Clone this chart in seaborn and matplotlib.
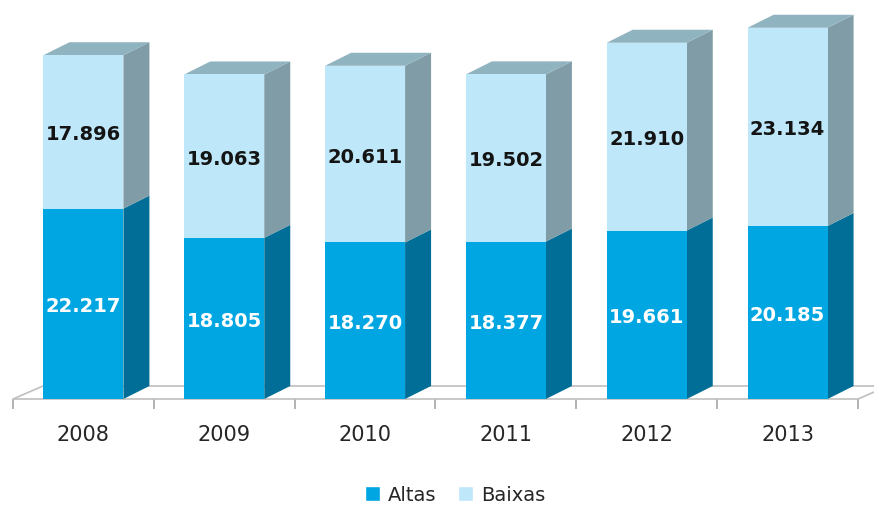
import matplotlib
matplotlib.use("Agg")
import matplotlib.pyplot as plt
import seaborn as sns
import pandas as pd
from matplotlib.patches import Polygon, Patch

# ---- data ----
years = ["2008", "2009", "2010", "2011", "2012", "2013"]
altas = [22217, 18805, 18270, 18377, 19661, 20185]
baixas = [17896, 19063, 20611, 19502, 21910, 23134]
series_names = ["Altas", "Baixas"]

sns.set_theme(style="white")
plt.rcParams['font.family'] = ['DejaVu Sans']

c_altas = "#00A6E2"
c_altas_side = "#006E97"
c_baixas = "#BEE8F9"
c_baixas_side = "#7F9CA7"
c_baixas_top = "#90B3C0"
c_floor = "#BFBFBF"

W, H = 874, 506
fig = plt.figure(figsize=(W / 100, H / 100), dpi=100)
ax_left, ax_right, ax_bottom, ax_top = 13, 858, 400, 0
ax = fig.add_axes([ax_left / W, (H - ax_bottom) / H, (ax_right - ax_left) / W, (ax_bottom - ax_top) / H])

px_per_unit_x = (ax_right - ax_left) / 6.0
px_per_val = 8.57 / 1000.0
ymax = (ax_bottom - ax_top) / px_per_val

df = pd.DataFrame({"Ano": years, "Altas": altas, "Baixas": baixas})
df["Total"] = df["Altas"] + df["Baixas"]

bw = 80 / px_per_unit_x
sns.barplot(data=df, x="Ano", y="Total", color=c_baixas, width=bw, saturation=1,
            errorbar=None, linewidth=0, ax=ax, zorder=3)
sns.barplot(data=df, x="Ano", y="Altas", color=c_altas, width=bw, saturation=1,
            errorbar=None, linewidth=0, ax=ax, zorder=3)

ax.set_xlim(-0.5, 5.5)
ax.set_ylim(0, ymax)

# depth offsets
ddx = 26 / px_per_unit_x
ddy = 13 / px_per_val
fdx = 30 / px_per_unit_x
fdy = 13 / px_per_val

# floor
floor = Polygon([(-0.5, 0), (5.5, 0), (5.5 + fdx, fdy), (-0.5 + fdx, fdy)], closed=True,
                facecolor="white", edgecolor=c_floor, lw=1.2, zorder=1, clip_on=False)
ax.add_patch(floor)

n = len(years)
patches = list(ax.patches)
tot_patches = [p for p in patches if isinstance(p, matplotlib.patches.Rectangle)][:n]
for i, p in enumerate(tot_patches):
    x0 = p.get_x()
    w = p.get_width()
    x1 = x0 + w
    a = altas[i]
    t = altas[i] + baixas[i]
    side_a = Polygon([(x1, 0), (x1 + ddx, ddy), (x1 + ddx, a + ddy), (x1, a)], closed=True,
                     facecolor=c_altas_side, edgecolor="none", zorder=2.5, clip_on=False)
    side_b = Polygon([(x1, a), (x1 + ddx, a + ddy), (x1 + ddx, t + ddy), (x1, t)], closed=True,
                     facecolor=c_baixas_side, edgecolor="none", zorder=2.5, clip_on=False)
    top = Polygon([(x0, t), (x0 + ddx, t + ddy), (x1 + ddx, t + ddy), (x1, t)], closed=True,
                  facecolor=c_baixas_top, edgecolor="none", zorder=2.5, clip_on=False)
    for pg in (side_a, side_b, top):
        ax.add_patch(pg)

def fmt(v):
    return f"{v:,}".replace(",", ".")

for i in range(n):
    a = altas[i]
    b = baixas[i]
    ax.text(i, a / 2, fmt(a), ha="center", va="center_baseline", color="white",
            fontsize=14, fontweight="bold", zorder=5)
    ax.text(i, a + b / 2, fmt(b), ha="center", va="center_baseline", color="#141414",
            fontsize=14, fontweight="bold", zorder=5)

for s in ax.spines.values():
    s.set_visible(False)
ax.set_yticks([])
ax.set_xlabel("")
ax.set_ylabel("")
ax.set_xticks([i - 0.5 for i in range(n + 1)], minor=True)
ax.tick_params(axis="x", which="major", length=0, pad=18, labelsize=15, labelcolor="#262626")
ax.tick_params(axis="x", which="minor", bottom=True, length=7.5, width=1.2, color="#A6A6A6", direction="out")
ax.patch.set_alpha(0)

handles = [Patch(facecolor=c_altas, label=series_names[0]),
           Patch(facecolor=c_baixas, label=series_names[1])]
fig.legend(handles=handles, loc="center", bbox_to_anchor=(455 / W, 10 / H), ncol=2, frameon=False,
           fontsize=14, handlelength=0.8, handleheight=0.8, handletextpad=0.4, columnspacing=1.1,
           labelcolor="#262626")

fig.savefig("out.png", dpi=100)
